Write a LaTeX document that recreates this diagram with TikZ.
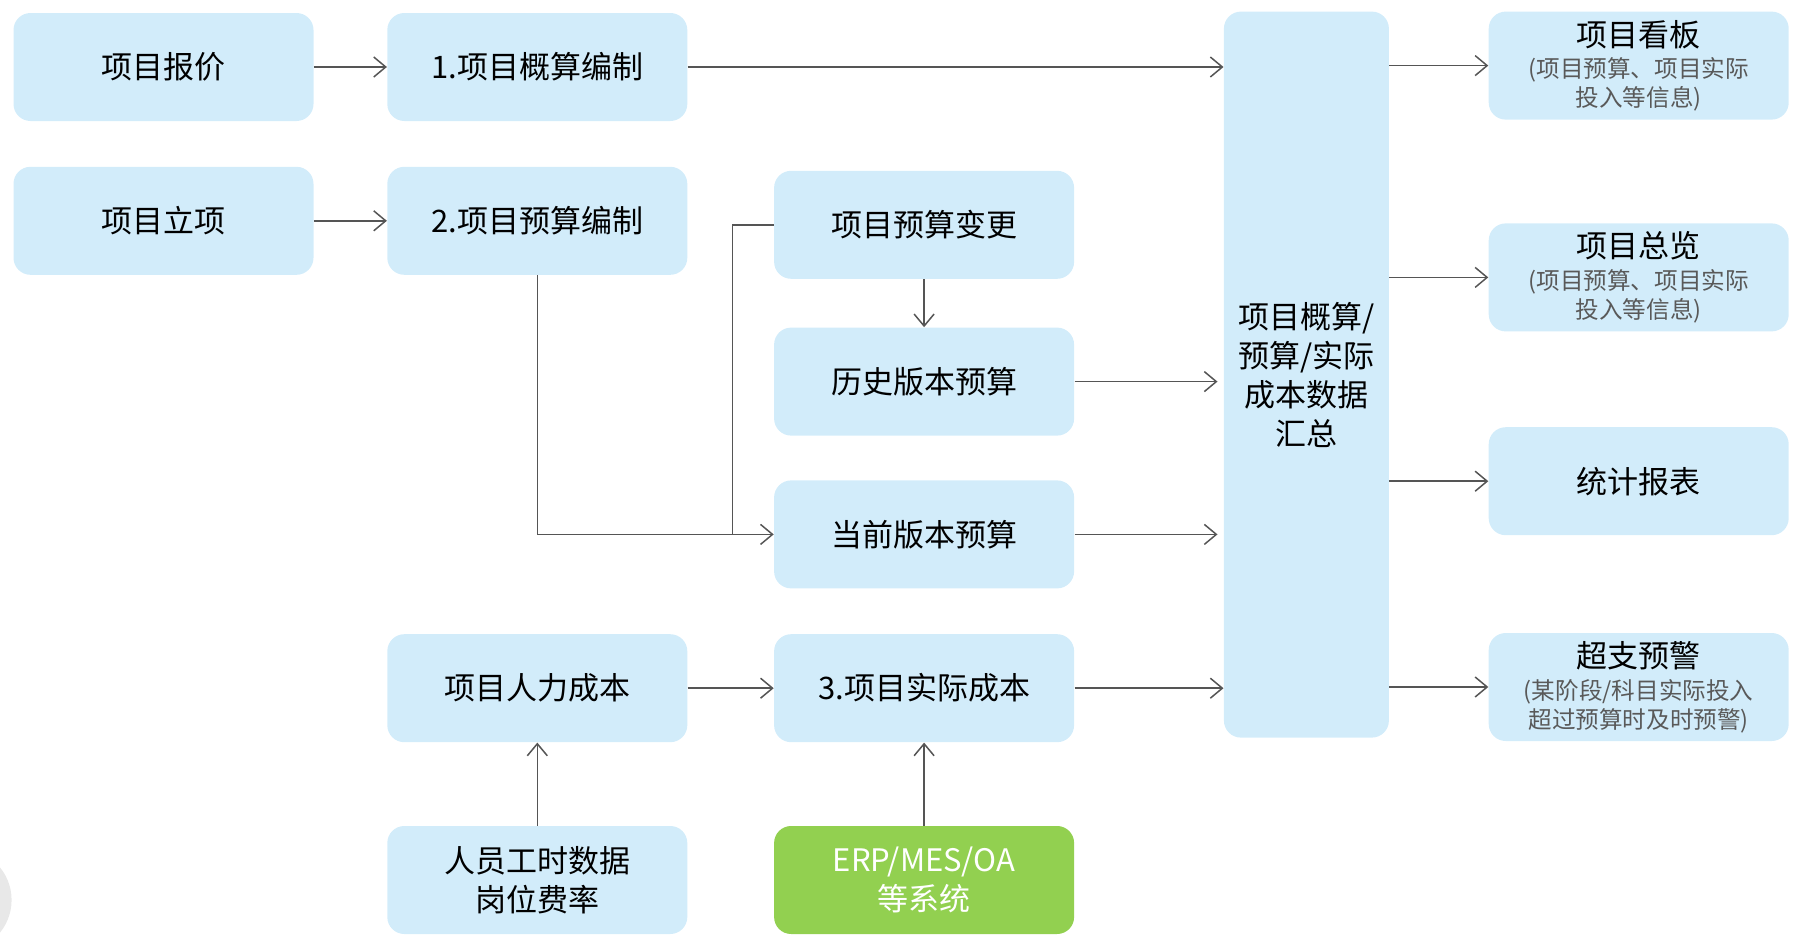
\documentclass[tikz,border=0pt]{standalone}
\usepackage{fontspec}
\setmainfont{Noto Sans CJK SC}
\usetikzlibrary{positioning, arrows.meta}

\definecolor{boxblue}{RGB}{210,236,250}
\definecolor{boxgreen}{RGB}{146,208,80}
\definecolor{linegray}{RGB}{85,85,85}
\definecolor{subgray}{RGB}{89,89,89}
\newcommand{\titlefont}{\fontsize{15.5}{19.5}\selectfont\color{black}}
\newcommand{\subfont}{\fontsize{11.8}{14.4}\selectfont\color{subgray}}

\begin{document}
\begin{tikzpicture}[
		font=\titlefont,
		>={Straight Barb[length=6pt,width=10pt]},
		blue node/.style={fill=boxblue, rounded corners=8.5pt, minimum width=150pt, minimum height=54pt, align=center, inner sep=2pt},
		green node/.style={blue node, fill=boxgreen, text=white},
		sum node/.style={blue node, minimum width=82.5pt, minimum height=363pt},
		info node/.style={blue node, font=\subfont},
		link/.style={draw=linegray, line width=0.75pt}
		]
		
		\useasboundingbox (0,0) rectangle (900pt,-471pt);
		\fill[gray!18] (-20pt,-450pt) circle (25.8pt);
		
		% ==========================================
		% 1. ESTIMATE / BUDGET / ACTUAL COST
		% ==========================================
		
		\node[blue node] (quote) at (81.75pt,-33.5pt) {项目报价};
		\node[blue node, right=36.5pt of quote] (estimate) {1.项目概算编制};
		\node[blue node, below=22.5pt of quote] (setup) {项目立项};
		\node[blue node, right=36.5pt of setup] (budget) {2.项目预算编制};
		\node[blue node, right=43pt of budget, yshift=-2pt] (change) {项目预算变更};
		\node[blue node, below=24pt of change] (history) {历史版本预算};
		\node[blue node, below=22pt of history] (current) {当前版本预算};
		\node[blue node, below=22.5pt of current] (actual) {3.项目实际成本};
		\node[blue node, left=43pt of actual] (labor) {项目人力成本};
		\node[blue node, below=41.5pt of labor] (hours) {人员工时数据\\岗位费率};
		\node[green node, below=41.5pt of actual] (erp) {ERP/MES/OA\\等系统};
		
		\coordinate (join) at ([xshift=-20.5pt]change.west |- current.west);
		
		% Arrows into the cost columns
		\draw[link, ->] (quote) -- (estimate);
		\draw[link, ->] (setup) -- (budget);
		\draw[link, ->] (budget.south) |- (current.west);
		\draw[link] (change.west) -| (join);
		\draw[link, ->] (change) -- (history);
		\draw[link, ->] (labor) -- (actual);
		\draw[link, ->] (hours) -- (labor);
		\draw[link, ->] (erp) -- (actual);
		
		% ==========================================
		% 2. SUMMARY AND OUTPUTS
		% ==========================================
		
		\node[sum node, right=74.5pt of history, yshift=3.5pt] (summary) {项目概算/\\预算/实际\\成本数据\\汇总};
		
		\node[info node, right=49.5pt of summary.north east, anchor=north west] (board) {{\titlefont 项目看板}\\[1.5pt](项目预算、项目实际\\投入等信息)};
		\node[info node, below=51.5pt of board] (overview) {{\titlefont 项目总览}\\[1.5pt](项目预算、项目实际\\投入等信息)};
		\node[blue node, below=47.5pt of overview] (report) {统计报表};
		\node[info node, below=48.5pt of report] (warning) {{\titlefont 超支预警}\\[1.5pt](某阶段/科目实际投入\\超过预算时及时预警)};
		
		% Arrows into the summary
		\draw[link, ->] (estimate.east) -- (estimate.east -| summary.west);
		\draw[link, ->, shorten >=3pt] (history.east) -- (history.east -| summary.west);
		\draw[link, ->, shorten >=3pt] (current.east) -- (current.east -| summary.west);
		\draw[link, ->] (actual.east) -- (actual.east -| summary.west);
		
		% Arrows out of the summary
		\draw[link, ->] (summary.east |- board.west) -- (board.west);
		\draw[link, ->] (summary.east |- overview.west) -- (overview.west);
		\draw[link, ->] (summary.east |- report.west) -- (report.west);
		\draw[link, ->] (summary.east |- warning.west) -- (warning.west);
		
	\end{tikzpicture}
\end{document}
